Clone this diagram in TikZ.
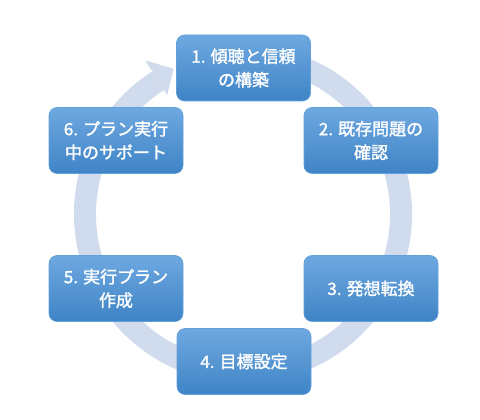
\documentclass[tikz,border=0pt]{standalone}
\usepackage{fontspec}
\setmainfont{Noto Sans CJK JP}
\newfontfamily\boxfont[FakeBold=1.6]{Noto Sans CJK JP}
\definecolor{ringc}{HTML}{D0DCEE}
\definecolor{boxtop}{HTML}{6EA8E0}
\definecolor{boxbot}{HTML}{3F84C6}
\definecolor{boxedge}{HTML}{62A0DA}
\begin{document}
\begin{tikzpicture}[x=1pt,y=1pt,
  stepbox/.style={rounded corners=8pt, minimum width=134pt, minimum height=66pt,
    top color=boxtop, bottom color=boxbot, draw=boxedge, line width=0.6pt,
    text=white, align=center, inner sep=0pt,
    font=\boxfont\fontsize{17}{23.5}\selectfont}]
\useasboundingbox (0,0) rectangle (480,420);
\coordinate (c) at (243,206);
% ring
\draw[ringc, line width=22pt] ([shift={(70:158)}]c) arc[start angle=70, end angle=-237.5, radius=158];
\fill[ringc] ([shift={(122.5:141)}]c) -- ([shift={(122.5:182)}]c) -- ([shift={(115.5:161)}]c) -- cycle;
% boxes
\node[stepbox] (b1) at (243.5,352) {1. 傾聴と信頼\\の構築};
\node[stepbox] (b2) at (371,279.5) {2. 既存問題の\\確認};
\node[stepbox] (b3) at (371,131.5) {3. 発想転換};
\node[stepbox] (b4) at (244,58.5) {4. 目標設定};
\node[stepbox] (b5) at (116,131.5) {5. 実行プラン\\作成};
\node[stepbox] (b6) at (116,279.5) {6. プラン実行\\中のサポート};
\end{tikzpicture}
\end{document}
